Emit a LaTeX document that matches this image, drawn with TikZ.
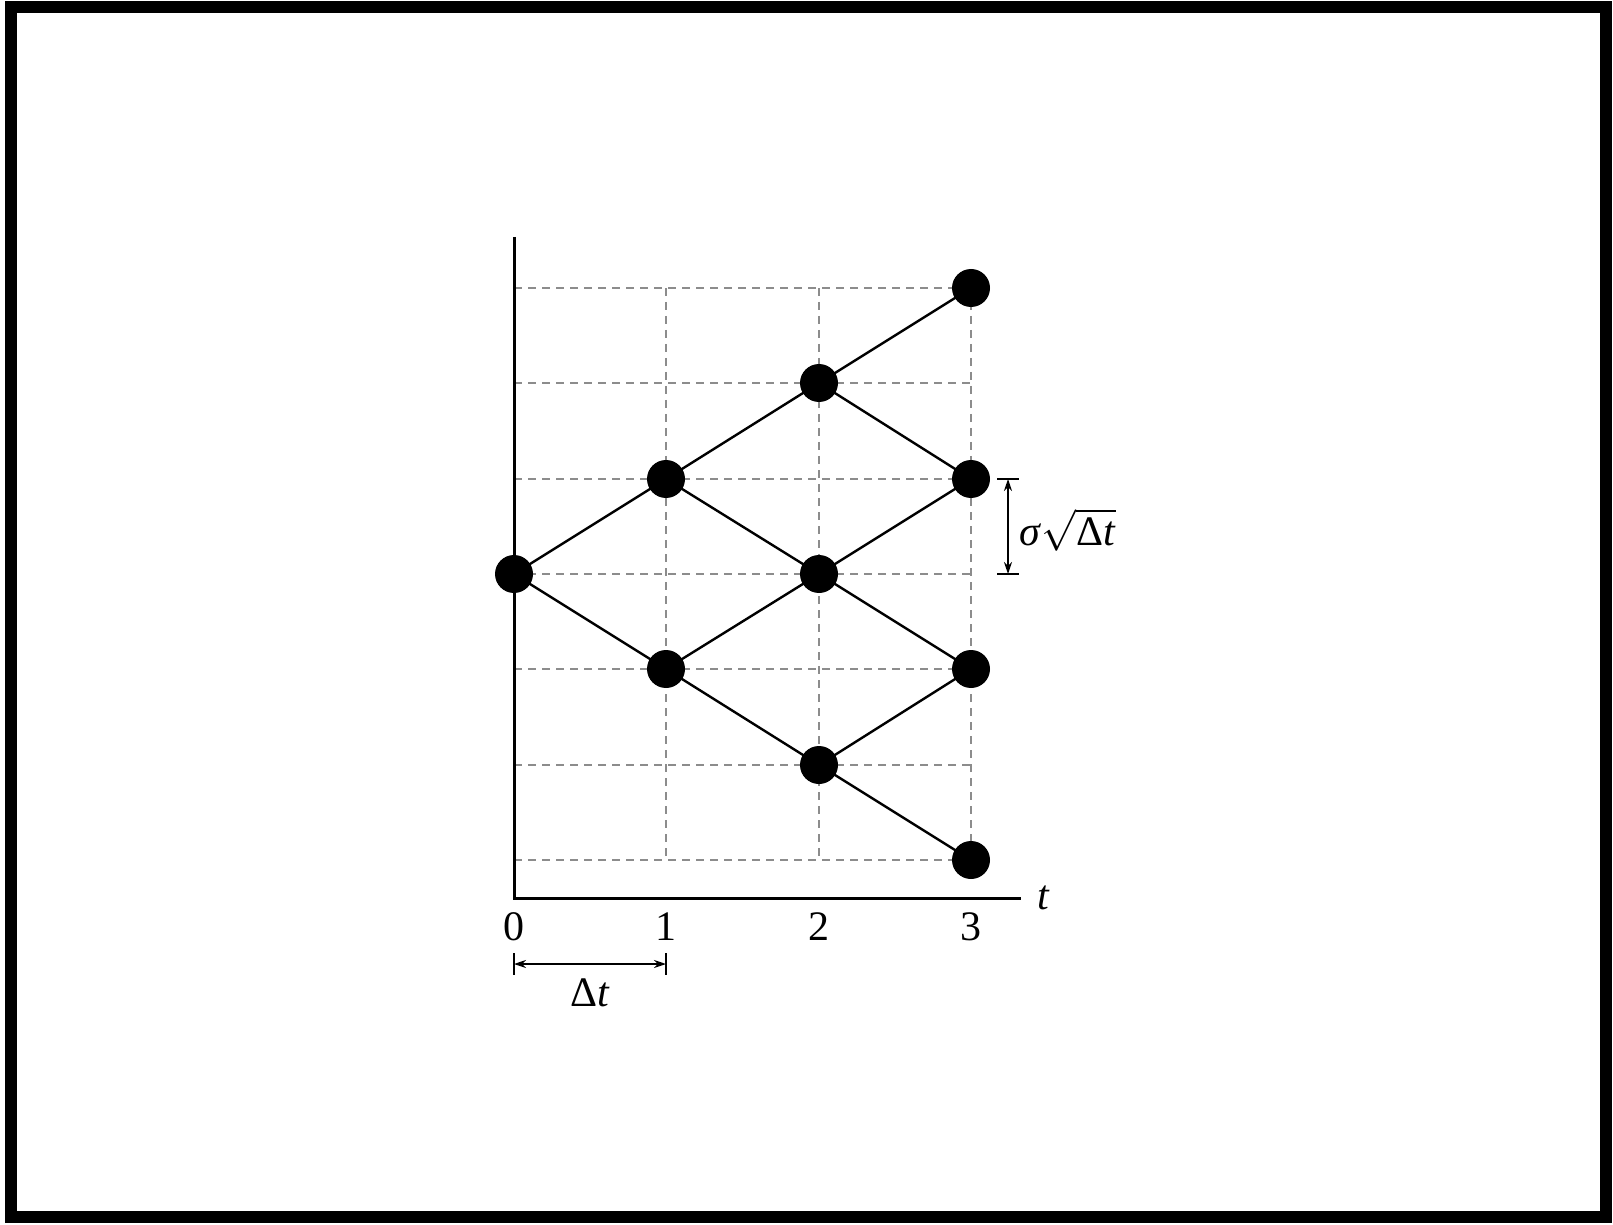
\documentclass[tikz,border=0pt]{standalone}
\usepackage{fontspec}
\setmainfont{Liberation Serif}
\usetikzlibrary{arrows.meta,positioning}

\begin{document}
\begin{tikzpicture}[
    x=0.5pt, y=-0.5pt,
    >={Stealth[length=6pt,width=4pt]},
    dot/.style={circle, fill=black, minimum size=19pt, inner sep=0pt},
    grid/.style={dashed, dash pattern=on 4pt off 3pt, line width=0.7pt, color=black!45},
    branch/.style={line width=1.2pt},
    axis/.style={line width=1.5pt},
    lbl/.style={font=\fontsize{21}{23}\selectfont, inner sep=1pt},
    dim/.style={<->, line width=0.8pt},
  ]
  \useasboundingbox (0,0) rectangle (1613,1225);
  \draw[line width=6pt] (11,7) rectangle (1606,1217);

  % Grid
  \foreach \r in {288,383,479,574,669,765,860}
    \draw[grid] (514,\r) -- (971,\r);
  \foreach \c in {666,819,971}
    \draw[grid] (\c,288) -- (\c,860);

  % Axes
  \coordinate (orig) at (514,898);
  \coordinate (ytop) at (514,237);
  \coordinate (xend) at (1021,898);
  \draw[axis] (ytop) -- (orig) -- (xend);
  \node[lbl, right=7pt of xend] (tlab) {\itshape t};

  % Time labels
  \node[lbl] (t0) at (514,927) {0};
  \node[lbl] (t1) at (666,927) {1};
  \node[lbl] (t2) at (819,927) {2};
  \node[lbl] (t3) at (971,927) {3};

  % Tree nodes
  \node[dot] (s0)  at (514,574) {};
  \node[dot] (s1u) at (666,479) {};
  \node[dot] (s1d) at (666,669) {};
  \node[dot] (s2u) at (819,383) {};
  \node[dot] (s2m) at (819,574) {};
  \node[dot] (s2d) at (819,765) {};
  \node[dot] (s3a) at (971,288) {};
  \node[dot] (s3b) at (971,479) {};
  \node[dot] (s3c) at (971,669) {};
  \node[dot] (s3d) at (971,860) {};

  \draw[branch] (s0.center) -- (s1u.center) -- (s2u.center) -- (s3a.center);
  \draw[branch] (s0.center) -- (s1d.center) -- (s2d.center) -- (s3d.center);
  \draw[branch] (s1u.center) -- (s2m.center) -- (s3c.center);
  \draw[branch] (s1d.center) -- (s2m.center) -- (s3b.center);
  \draw[branch] (s2u.center) -- (s3b.center);
  \draw[branch] (s2d.center) -- (s3c.center);

  % Step width
  \coordinate (dl) at (514,964);
  \coordinate (dr) at (666,964);
  \draw[line width=0.8pt] (514,953) -- (514,975) (666,953) -- (666,975);
  \draw[dim] (dl) -- (dr);
  \node[lbl] (dtlab) at (590,993) {Δ\textit{t}};

  % Step height
  \coordinate (hu) at (1008,479);
  \coordinate (hd) at (1008,574);
  \draw[line width=0.8pt] (997,479) -- (1019,479) (997,574) -- (1019,574);
  \draw[dim] (hu) -- (hd);
  \node[lbl, anchor=west] (sdlab) at (1017,530)
    {\textit{σ}$\sqrt{\mbox{Δ\textit{t}}}$};
\end{tikzpicture}
\end{document}
